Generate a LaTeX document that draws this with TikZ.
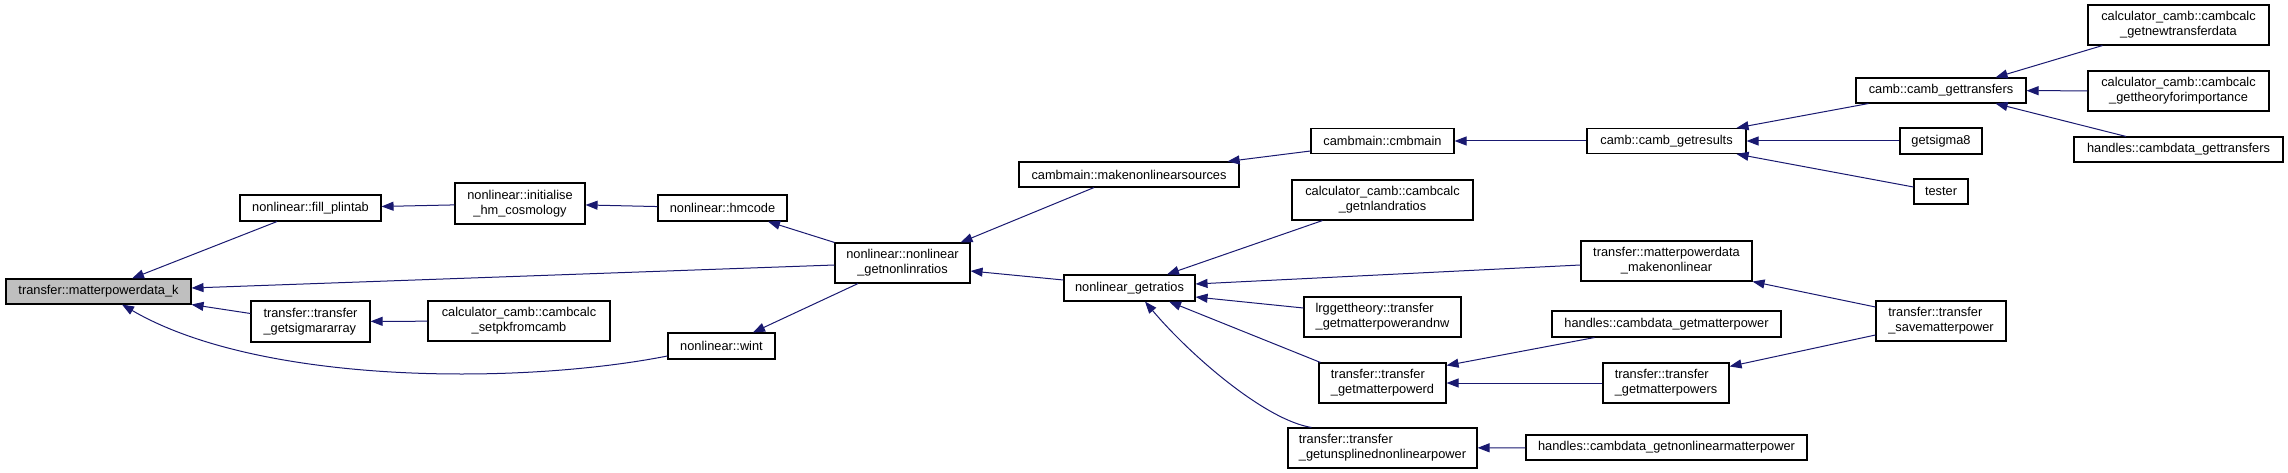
\documentclass[tikz,border=0pt]{standalone}
\usepackage{fontspec}
\setmainfont{Liberation Sans}
\usetikzlibrary{arrows.meta}
\definecolor{edgeblue}{HTML}{191970}
\definecolor{boxgray}{HTML}{BFBFBF}

\begin{document}
\begin{tikzpicture}[x=1pt,y=-1pt,>={Triangle[length=12pt,width=9pt]},
    fn/.style={draw,line width=1.1pt,inner sep=0pt,align=center,
      font=\fontsize{12.8}{15}\selectfont},
    box/.style 2 args={minimum width=#1pt,minimum height=#2pt},
    edge/.style={<-,draw=edgeblue,line width=1pt}]
        \useasboundingbox (0,0) rectangle (2288,473);
        % first columns
        \node[fn,box={185}{25},fill=boxgray] (mpk) at (98.5,291.5) {transfer::matterpowerdata\_k};
        \node[fn,box={141}{26}] (fillpl) at (310.5,208) {nonlinear::fill\_plintab};
        \node[fn,box={119}{41},align=left] (sigarr) at (310.5,321.5) {transfer::transfer\\\_getsigmararray};
        \node[fn,box={130}{41}] (inithm) at (520,203.5) {nonlinear::initialise\\\_hm\_cosmology};
        \node[fn,box={182}{40}] (setpk) at (519,321) {calculator\_camb::cambcalc\\\_setpkfromcamb};
        \node[fn,box={129}{26}] (hmcode) at (722.5,208) {nonlinear::hmcode};
        \node[fn,box={107}{26}] (wint) at (721.5,346) {nonlinear::wint};
        \node[fn,box={135}{40}] (nlratios) at (902.5,263) {nonlinear::nonlinear\\\_getnonlinratios};
        \node[fn,box={220}{25}] (mksrc) at (1129,174.5) {cambmain::makenonlinearsources};
        \node[fn,box={131}{26}] (getratios) at (1129.5,288) {nonlinear\_getratios};
        % middle columns
        \node[fn,box={143}{25}] (cmbmain) at (1382.5,141) {cambmain::cmbmain};
        \node[fn,box={181}{40}] (nland) at (1382.5,200) {calculator\_camb::cambcalc\\\_getnlandratios};
        \node[fn,box={157}{40},align=left] (lrg) at (1382.5,317) {lrggettheory::transfer\\\_getmatterpowerandnw};
        \node[fn,box={127}{40},align=left] (pwrd) at (1382.5,383) {transfer::transfer\\\_getmatterpowerd};
        \node[fn,box={189}{40},align=left] (unspl) at (1382.5,448) {transfer::transfer\\\_getunsplinednonlinearpower};
        \node[fn,box={159}{25}] (getres) at (1666.5,141) {camb::camb\_getresults};
        \node[fn,box={171}{40}] (mknl) at (1666.5,261) {transfer::matterpowerdata\\\_makenonlinear};
        \node[fn,box={229}{26}] (hgetmp) at (1666.5,324) {handles::cambdata\_getmatterpower};
        \node[fn,box={126}{40},align=left] (pwrs) at (1666,383) {transfer::transfer\\\_getmatterpowers};
        \node[fn,box={281}{25}] (hgetnl) at (1666.5,447.5) {handles::cambdata\_getnonlinearmatterpower};
        % right columns
        \node[fn,box={170}{25}] (gettr) at (1941,90.5) {camb::camb\_gettransfers};
        \node[fn,box={82}{26}] (sigma8) at (1941,141) {getsigma8};
        \node[fn,box={54}{25}] (tester) at (1941,191.5) {tester};
        \node[fn,box={130}{40},align=left] (savemp) at (1941,321) {transfer::transfer\\\_savematterpower};
        \node[fn,box={181}{40}] (newtd) at (2178.5,25) {calculator\_camb::cambcalc\\\_getnewtransferdata};
        \node[fn,box={181}{40}] (theory) at (2178.5,91) {calculator\_camb::cambcalc\\\_gettheoryforimportance};
        \node[fn,box={209}{25}] (hgettr) at (2178.5,149.5) {handles::cambdata\_gettransfers};
        % straight calls
        \foreach \a/\b in {fillpl/inithm,inithm/hmcode,sigarr/setpk,cmbmain/getres,
            getres/sigma8,gettr/theory,pwrd/pwrs,unspl/hgetnl}
          \draw[edge] (\a) -- (\b);
        % slanted calls
        \draw[edge] ([xshift=33.5]mpk.north) -- ([xshift=-33.5]fillpl.south);
        \draw[edge] ([yshift=3.5]mpk.east) -- ([yshift=-2]nlratios.west);
        \draw[edge] (mpk.south east) -- ([yshift=8]sigarr.west);
        \draw[edge] ([xshift=23.5]mpk.south)
            .. controls (260,385) and (520,385) .. ([yshift=-10]wint.west);
        \draw[edge] ([xshift=45.5]hmcode.south) -- (nlratios.north west);
        \draw[edge] ([xshift=31.5]wint.north) -- ([xshift=-44.5]nlratios.south);
        \draw[edge] ([xshift=-10]nlratios.north east) -- ([xshift=-35]mksrc.south);
        \draw[edge] ([yshift=-8]nlratios.east) -- ([yshift=8]getratios.west);
        \draw[edge] ([xshift=-12]mksrc.north east) -- ([yshift=-10]cmbmain.west);
        \draw[edge] ([xshift=-10]getres.north east) -- ([xshift=13]gettr.south west);
        \draw[edge] ([xshift=-10]getres.south east) -- ([yshift=4.5]tester.west);
        \draw[edge] ([xshift=-31]gettr.north east) -- ([xshift=15]newtd.south west);
        \draw[edge] ([xshift=-31]gettr.south east) -- ([xshift=-52.5]hgettr.north);
        \draw[edge] ([xshift=37.5]getratios.north) -- ([xshift=31]nland.south west);
        \draw[edge] ([yshift=4]getratios.east) -- ([yshift=-4]mknl.west);
        \draw[edge] ([yshift=-9]getratios.east) -- ([yshift=9]lrg.west);
        \draw[edge] ([xshift=39.5]getratios.south) -- ([xshift=2]pwrd.north west);
        \draw[edge] ([xshift=15.5]getratios.south)
            .. controls (1190,355) and (1265,420) .. ([xshift=24]unspl.north west);
        \draw[edge] (mknl.south east) -- ([yshift=14]savemp.west);
        \draw[edge] ([yshift=-3]pwrd.north east) -- ([xshift=43]hgetmp.south west);
        \draw[edge] ([yshift=-4]pwrs.north east) -- ([yshift=-14]savemp.west);
      \end{tikzpicture}
\end{document}
